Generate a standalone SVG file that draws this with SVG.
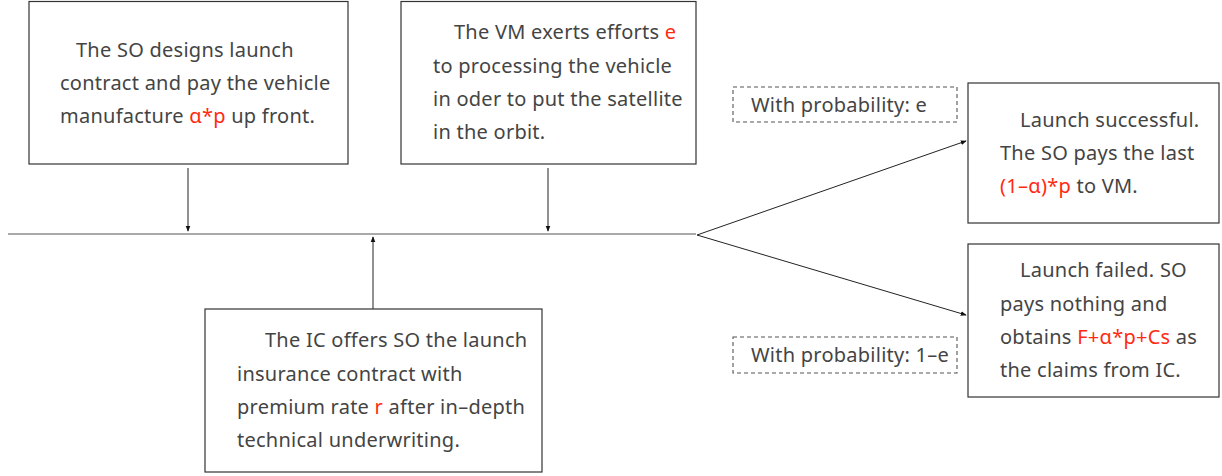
<svg xmlns="http://www.w3.org/2000/svg" width="1222" height="476" viewBox="0 0 1222 476">
  <defs>
    <marker id="arrow" viewBox="0 0 8 8" refX="7" refY="4" markerWidth="6" markerHeight="6" markerUnits="userSpaceOnUse" orient="auto">
      <path d="M0,0.8 L8,4 L0,7.2 Z" fill="#111"/>
    </marker>
  </defs>
  <style>
    .box { fill: #fff; stroke: #333; stroke-width: 1.2; }
    .dash { fill: #fff; stroke: #555; stroke-width: 1.1; stroke-dasharray: 4 3; }
    .t { font-family: "Noto Sans", "Liberation Sans", sans-serif; font-size: 20px; letter-spacing: 0.25px; fill: #444; }
    .r { fill: #ff2a12; }
    .line { fill: none; stroke: #555; stroke-width: 1.2; }
    .arr { fill: none; stroke: #222; stroke-width: 1; marker-end: url(#arrow); }
  </style>

  <rect width="1222" height="476" fill="#fff"/>

  <!-- timeline and branches -->
  <g id="connectors">
    <line class="line" x1="8" y1="234" x2="696" y2="234"/>
    <line class="arr" x1="188" y1="168" x2="188" y2="231"/>
    <line class="arr" x1="548" y1="168" x2="548" y2="231"/>
    <line class="arr" x1="373" y1="309" x2="373" y2="237"/>
    <line class="arr" x1="697" y1="235" x2="966" y2="141"/>
    <line class="arr" x1="697" y1="235" x2="966" y2="315"/>
  </g>

  <g id="so-contract">
    <rect class="box" x="29" y="1.5" width="319" height="162.5"/>
    <text class="t" x="76" y="57">The SO designs launch</text>
    <text class="t" x="60" y="90">contract and pay the vehicle</text>
    <text class="t" x="60" y="123">manufacture <tspan class="r">α*p</tspan> up front.</text>
  </g>

  <g id="vm-effort">
    <rect class="box" x="401" y="1.5" width="295" height="162.5"/>
    <text class="t" x="454" y="39">The VM exerts efforts <tspan class="r">e</tspan></text>
    <text class="t" x="433" y="73">to processing the vehicle</text>
    <text class="t" x="433" y="106">in oder to put the satellite</text>
    <text class="t" x="433" y="139">in the orbit.</text>
  </g>

  <g id="ic-offer">
    <rect class="box" x="205" y="309" width="337" height="163"/>
    <text class="t" x="265" y="347">The IC offers SO the launch</text>
    <text class="t" x="237" y="381">insurance contract with</text>
    <text class="t" x="237" y="414">premium rate <tspan class="r">r</tspan> after in–depth</text>
    <text class="t" x="237" y="447">technical underwriting.</text>
  </g>

  <g id="prob-success">
    <rect class="dash" x="733" y="87" width="224" height="35"/>
    <text class="t" x="751" y="112">With probability: e</text>
  </g>

  <g id="prob-failure">
    <rect class="dash" x="733" y="337" width="224" height="36"/>
    <text class="t" x="751" y="362">With probability: 1–e</text>
  </g>

  <g id="launch-success">
    <rect class="box" x="968" y="83" width="251" height="140"/>
    <text class="t" x="1020" y="127">Launch successful.</text>
    <text class="t" x="1000" y="160">The SO pays the last</text>
    <text class="t" x="1000" y="193"><tspan class="r">(1–α)*p</tspan> to VM.</text>
  </g>

  <g id="launch-failure">
    <rect class="box" x="968" y="244" width="251" height="153"/>
    <text class="t" x="1020" y="277">Launch failed. SO</text>
    <text class="t" x="1000" y="311">pays nothing and</text>
    <text class="t" x="1000" y="344">obtains <tspan class="r">F+α*p+Cs</tspan> as</text>
    <text class="t" x="1000" y="377">the claims from IC.</text>
  </g>
</svg>
